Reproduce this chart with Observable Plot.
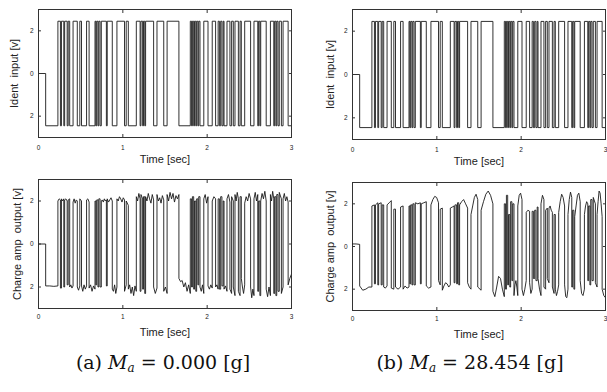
<!DOCTYPE html>
<html><head><meta charset="utf-8">
<script src="https://cdn.jsdelivr.net/npm/d3@7"></script>
<script src="https://cdn.jsdelivr.net/npm/@observablehq/plot@0.6"></script>
<style>
body{margin:0;background:#fff}
#fig{position:relative;width:607px;height:392px;overflow:hidden;background:#fff}
.panel{position:absolute}
.panel svg{overflow:visible}
.panel [aria-label$="tick label"] text{font-size:6.5px}
.panel [aria-label$="axis label"] text{font-size:11px}
.cap{position:absolute;font-family:"DejaVu Serif","Liberation Serif",serif;font-size:19px;color:#111;white-space:nowrap;transform:translate(-50%,-50%)}
.cap i{font-style:italic}
.cap sub{font-size:12px;vertical-align:-3px;font-style:italic}
</style></head><body><div id="fig"></div>
<script>
// ---- data ----
// switching instants of the identification input [s]
const switchTimes = [0.085,
 0.23, 0.26, 0.272, 0.30, 0.31, 0.34, 0.352, 0.37, 0.41, 0.46,
 0.49, 0.51, 0.57, 0.60, 0.67, 0.68, 0.69, 0.705, 0.715, 0.73,
 0.745, 0.805, 0.815, 0.875, 0.93, 1.02, 1.04, 1.065, 1.16, 1.205,
 1.215, 1.235, 1.245, 1.26, 1.27, 1.365, 1.405, 1.485, 1.525, 1.665,
 1.80, 1.815, 1.825, 1.84, 1.85, 1.865, 1.875, 1.89, 1.90, 1.915,
 1.96, 2.01, 2.06, 2.10, 2.13, 2.145, 2.16, 2.175, 2.19, 2.20,
 2.235, 2.27, 2.29, 2.31, 2.33, 2.37, 2.39, 2.405, 2.445, 2.515,
 2.555, 2.60, 2.61, 2.625, 2.635, 2.70, 2.75, 2.79, 2.80, 2.815,
 2.825, 2.84, 2.855, 2.88, 2.90, 2.96];
const endTime = 3;
// input levels: initial, low, high [v]
const inputLevels = [0, -2.45, 2.45];
// charge amp output, values within each input segment, (a) Ma = 0.000 g
const outA = [
 [0,0],[-1.95,-1.95,-1.97,-1.95],[2.0,2.1,2.05],[-2.05],[2.1,2.0,2.1],[-2.0],[2.05,2.1,2.0],[-1.9],[2.05,2.1],
 [-2.0,-1.9,-2.05,-1.95],[1.95,2.1,1.9,2.05,2.0],[-2.0,-2.15,-1.95],[2.1,2.0],[-1.95,-2.2,-1.9,-2.1,-1.95],
 [2.05,2.1,1.95],[-2.05,-1.9,-2.2,-1.95,-2.1],[2.0],[-1.9],[2.05],[-2.0],[2.1],[-2.0],
 [2.0,2.05,1.95,2.1,2.0,2.05],[-1.95],[2.1,1.95,2.05,2.15,2.0],[-2.1,-2.2,-1.9,-2.3,-2.0],
 [2.1,2.0,2.2,2.1,1.95,2.15,2.05],[-2.2,-1.9],[2.0,1.8],[-2.1,-1.9,-2.3,-2.0,-2.4,-1.95,-2.2],
 [2.2,2.0,2.35,2.1],[-2.2],[2.3,2.1],[-2.1],[2.2],[-2.3],[2.2,2.0,2.35,2.1,1.9,2.3,2.05],
 [-2.0,-2.3,-2.05],[2.3,2.0,2.15,1.9,2.25,2.05],[-2.2,-2.0,-2.3],[2.3,2.0,2.4,2.1,2.35,1.95,2.25,2.1,2.3],
 [-1.6,-1.75,-1.7,-2.0,-1.8,-2.2,-1.9,-2.3],[2.1],[-2.0],[2.2],[-2.1],[2.0],[-2.2],[2.1],[-1.9],[2.2],
 [-2.0,-2.2,-1.9,-2.3],[2.1,2.3,1.9,2.2],[-1.95,-2.1,-1.9,-2.05],[2.0,2.2,2.1],[-2.0,-1.9,-2.1],
 [2.1],[-2.1],[2.2],[-1.95],[2.0],[-2.1,-1.95,-2.2],[2.1,2.3,1.95],[-2.1,-2.3],[2.2,2.0],[-2.0,-2.4],
 [2.3,2.0,2.4,2.1],[-2.2,-2.4],[2.2],[-1.6,-2.0,-2.3,-1.9],[1.9,2.2,2.0,2.35,2.1],[-2.0,-2.5,-2.1,-2.4],
 [2.1,2.4,2.0,2.3],[-2.2],[2.0],[-2.4],[2.0,2.35,2.1,2.45,2.0],[-2.1,-2.45,-2.0,-2.4],[2.3,2.0,2.45,2.1],
 [-2.3],[2.2],[-2.4],[2.3],[-2.2],[2.4,2.1],[-2.3,-2.0],[2.1,2.35,2.0,2.2,1.95],[-1.9,-1.6,-1.4]
];
// charge amp output, (b) Ma = 28.454 g
const outB = [
 [0.12,0.12,0.1],[-1.85,-2.05,-2.0,-1.9,-1.9],[1.9,1.95],[-1.75],[1.95,2.05],[-1.8],[2.0,2.05],[-1.8],[1.95],
 [-1.9,-1.95,-1.85],[1.95,2.05,2.15],[-1.95,-2.0],[1.75],[-1.9,-2.0,-1.9],[1.85,1.9],[-2.0,-1.85,-1.95,-1.9],
 [1.9],[-1.75],[1.95],[-1.8],[2.0],[-1.8],[2.05,2.0,2.05],[-1.75],[2.0,2.05,2.1],[-1.85,-1.95,-1.9],
 [1.95,2.2,2.35,2.3,2.05],[-1.6,-1.8],[1.75,1.8],[-2.05,-1.85,-1.7,-1.75,-1.9,-1.8],[1.8,1.85,1.9],
 [-1.7],[1.95],[-1.75],[2.05],[-1.8],[1.95,2.1,2.2,2.0,1.8],[-1.7,-1.9,-2.0],[1.5,1.9,2.3,2.45,2.2],
 [-1.9,-2.05],[1.7,2.1,2.45,2.6,2.4,2.0],[-2.1,-2.35,-1.9,-1.4,-1.5,-2.0,-2.35],[2.0],[-2.0],[2.4],[-1.8],
 [1.5],[-1.9],[2.1],[-1.6],[2.0],[-2.3,-1.8,-1.6,-1.9,-2.3],[1.9,2.4,2.5,2.2],[-2.0,-2.3,-2.0,-1.6],
 [1.6,1.7,1.65],[-1.7,-2.2,-2.0],[1.65],[-1.5],[1.7],[-1.6],[1.85],[-1.5,-2.0,-2.3],[2.0,2.4,2.2],
 [-1.9,-2.0],[1.7,1.8],[-1.5,-1.7],[1.8,1.9,1.7,1.6],[-1.9,-2.2],[1.5],[-2.0,-2.3,-2.1,-1.8],
 [1.6,2.1,2.45,2.3,1.9],[-1.8,-2.35,-2.4,-2.0],[1.5,2.2,2.55,2.3],[-1.9],[1.7],[-2.0],[1.4,1.9,2.4,2.5,2.1],
 [-1.6,-2.2,-2.3,-2.0],[1.5,1.9,2.1,2.0],[-1.6],[1.9],[-1.8],[2.2],[-1.6],[2.3,2.0],[-1.7,-1.9],
 [1.5,2.1,2.6,2.5,2.0,1.4],[-2.0,-2.3,-2.4]
];
const xTicks = [0, 1, 2, 3];
const yTicks = [-2, 0, 2];
const xLabel = "Time [sec]";
const yLabels = ["Ident  input [v]", "Charge amp  output [v]"];
const captions = [["(a)", "0.000"], ["(b)", "28.454"]];

// ---- build series ----
function bounds(k){
  const s = k === 0 ? 0 : switchTimes[k-1];
  const e = k < switchTimes.length ? switchTimes[k] : endTime;
  return [s, e];
}
function inputSeries(){
  const pts = [];
  for (let k = 0; k <= switchTimes.length; k++){
    const [s, e] = bounds(k);
    const v = k === 0 ? inputLevels[0] : (k % 2 ? inputLevels[1] : inputLevels[2]);
    pts.push({t: s, v}, {t: e, v});
  }
  return pts;
}
function outputSeries(vals){
  const pts = [];
  vals.forEach((seg, k) => {
    const [s, e] = bounds(k);
    if (seg.length === 1) { pts.push({t: s, v: seg[0]}, {t: e, v: seg[0]}); }
    else seg.forEach((v, j) => pts.push({t: s + (e - s) * j / (seg.length - 1), v}));
  });
  return pts;
}

const fig = document.getElementById("fig");
const blank = () => "";
function panel(data, ylabel, pos){
  const chart = Plot.plot({
    width: pos.w, height: pos.h,
    marginLeft: pos.ml, marginRight: pos.mr, marginTop: pos.mt, marginBottom: pos.mb,
    style: {fontFamily: "'Liberation Sans', Arial, sans-serif", color: "#222", background: "transparent"},
    x: {domain: [0, 3]},
    y: {domain: [-3, 3]},
    marks: [
      Plot.frame({stroke: "#333", strokeWidth: 1}),
      Plot.line(data, {x: "t", y: "v", stroke: "#1a1a1a", strokeWidth: 0.9, clip: true}),
      Plot.axisX(xTicks, {anchor: "bottom", tickSize: 0, tickPadding: pos.tx, tickFormat: d => String(d),
        label: xLabel, labelAnchor: "center", labelOffset: pos.lx, labelArrow: "none"}),
      Plot.axisX(xTicks, {anchor: "bottom", tickSize: -3, tickFormat: blank, label: null, stroke: "#333"}),
      Plot.axisX(xTicks, {anchor: "top", tickSize: -3, tickFormat: blank, label: null, stroke: "#333"}),
      Plot.axisY(yTicks, {anchor: "left", tickSize: 0, tickPadding: 5, tickFormat: d => String(Math.abs(d)),
        label: ylabel, labelAnchor: "center", labelOffset: pos.ly, labelArrow: "none"}),
      Plot.axisY(yTicks, {anchor: "left", tickSize: -3, tickFormat: blank, label: null, stroke: "#333"}),
      Plot.axisY(yTicks, {anchor: "right", tickSize: -3, tickFormat: blank, label: null, stroke: "#333"})
    ]
  });
  const d = document.createElement("div");
  d.className = "panel";
  d.style.left = pos.left + "px"; d.style.top = pos.top + "px";
  d.appendChild(chart);
  fig.appendChild(d);
}
const inp = inputSeries();
panel(inp, yLabels[0], {left: 0, top: 0, w: 300, h: 165, ml: 38, mr: 9, mt: 9, mb: 28, tx: 8, lx: 25, ly: 28});
panel(inp, yLabels[0], {left: 303, top: 0, w: 304, h: 168, ml: 49, mr: 2, mt: 9, mb: 29, tx: 8, lx: 25, ly: 26});
panel(outputSeries(outA), yLabels[1], {left: 0, top: 170, w: 300, h: 170, ml: 38, mr: 9, mt: 9, mb: 32, tx: 6, lx: 27, ly: 25});
panel(outputSeries(outB), yLabels[1], {left: 303, top: 170, w: 304, h: 170, ml: 49, mr: 2, mt: 12, mb: 30, tx: 6, lx: 27, ly: 26});

captions.forEach(([tag, val], i) => {
  const c = document.createElement("div");
  c.className = "cap";
  c.style.left = (i === 0 ? 163 : 470) + "px";
  c.style.top = "363px";
  c.innerHTML = `${tag} <i>M</i><sub>a</sub> = ${val} [g]`;
  fig.appendChild(c);
});
</script></body></html>
